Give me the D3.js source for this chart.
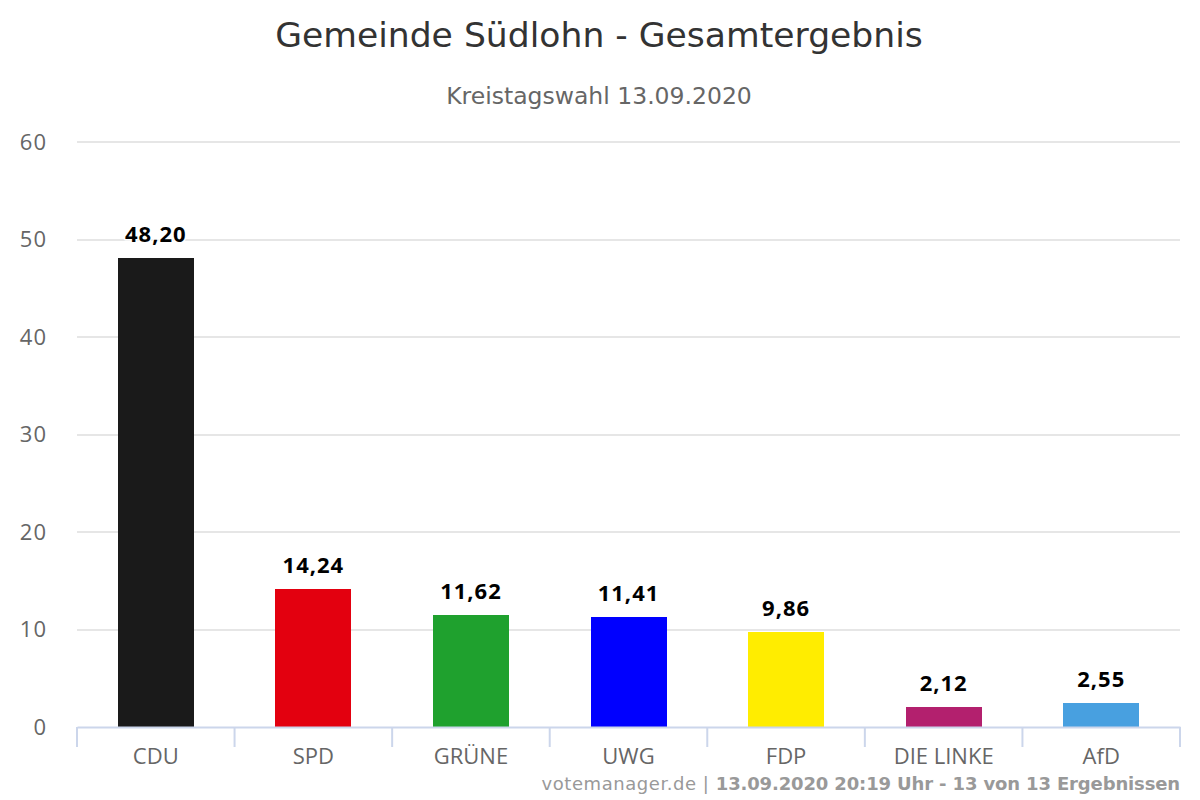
<!DOCTYPE html>
<html lang="en">
<head>
    <meta charset="UTF-8">
    <title>Gemeinde Südlohn</title>
    <script src="https://cdn.jsdelivr.net/npm/d3@7"></script>
    <style>
        html, body { margin: 0; background: #fff; }
        text { font-family: "Open Sans", sans-serif; }
        .wide { font-family: "DejaVu Sans", sans-serif; }
    </style>
</head>
<body>
<script>
    var categories = ["CDU", "SPD", "GRÜNE", "UWG", "FDP", "DIE LINKE", "AfD"];
    var values = [48.20, 14.24, 11.62, 11.41, 9.86, 2.12, 2.55];
    var labels = ["48,20", "14,24", "11,62", "11,41", "9,86", "2,12", "2,55"];
    var colors = ["#1a1a1a", "#e3000f", "#1fa12e", "#0000ff", "#ffed00", "#b3206e", "#48a0e0"];
    var yTicks = [0, 10, 20, 30, 40, 50, 60];

    var width = 1200, height = 800;
    var plotLeft = 77, plotRight = 1180, plotTop = 142, plotBottom = 727;
    var barWidth = 76, barInset = 1; // bars sit a little below their value, as in the original

    var svg = d3.select("body").append("svg")
        .attr("width", width)
        .attr("height", height)
        .style("display", "block");

    var x = d3.scaleBand().domain(categories).range([plotLeft, plotRight]);
    var y = d3.scaleLinear().domain([0, 60]).range([plotBottom, plotTop]);

    // grid
    svg.append("g").selectAll("line").data(yTicks.slice(1)).enter().append("line")
        .attr("x1", plotLeft).attr("x2", plotRight)
        .attr("y1", function(d) { return Math.round(y(d)); }).attr("y2", function(d) { return Math.round(y(d)); })
        .attr("stroke", "#e6e6e6").attr("stroke-width", 2);

    // y labels
    svg.append("g").selectAll("text").data(yTicks).enter().append("text")
        .attr("x", 47).attr("y", function(d) { return y(d) + 7.5; })
        .attr("text-anchor", "end").attr("font-size", 22).attr("letter-spacing", 1).attr("fill", "#666")
        .text(function(d) { return d; });

    // bars
    svg.append("g").selectAll("rect").data(values).enter().append("rect")
        .attr("x", function(d, i) { return Math.round(x(categories[i]) + (x.bandwidth() - barWidth) / 2); })
        .attr("width", barWidth)
        .attr("y", function(d) { return Math.round(y(d) + barInset); })
        .attr("height", function(d) { return y(0) - Math.round(y(d) + barInset); })
        .attr("fill", function(d, i) { return colors[i]; });

    // value labels
    svg.append("g").selectAll("text").data(values).enter().append("text")
        .attr("x", function(d, i) { return x(categories[i]) + x.bandwidth() / 2; })
        .attr("y", function(d) { return y(d) - 15; })
        .attr("text-anchor", "middle").attr("font-size", 22).attr("font-weight", 700)
        .attr("letter-spacing", 1)
        .attr("fill", "#000").attr("stroke", "#fff").attr("stroke-width", 3)
        .attr("paint-order", "stroke").attr("stroke-linejoin", "round")
        .text(function(d, i) { return labels[i]; });

    // x axis
    var xAxis = d3.axisBottom(x).tickSize(0).tickPadding(0);
    var axisG = svg.append("g").attr("transform", "translate(0," + plotBottom + ")").call(xAxis);
    axisG.select(".domain").attr("stroke", "#ccd6eb").attr("stroke-width", 2);
    axisG.selectAll("text").attr("y", 37).attr("dy", 0).attr("fill", "#666")
        .style("font-size", "22px").style("font-family", '"Open Sans", sans-serif');

    var edges = categories.map(function(c) { return x(c); }).concat([plotRight]);
    svg.append("g").selectAll("line").data(edges).enter().append("line")
        .attr("x1", function(d) { return d; }).attr("x2", function(d) { return d; })
        .attr("y1", plotBottom).attr("y2", plotBottom + 20)
        .attr("stroke", "#ccd6eb").attr("stroke-width", 2);

    // titles
    svg.append("text").attr("class", "wide").attr("x", 599).attr("y", 47).attr("text-anchor", "middle")
        .attr("font-size", 34.6).attr("fill", "#333")
        .text("Gemeinde Südlohn - Gesamtergebnis");
    svg.append("text").attr("class", "wide").attr("x", 599).attr("y", 104).attr("text-anchor", "middle")
        .attr("font-size", 23.5).attr("fill", "#666")
        .text("Kreistagswahl 13.09.2020");

    // credits
    var credit = svg.append("text").attr("class", "wide").attr("x", 1180).attr("y", 790).attr("text-anchor", "end")
        .attr("font-size", 18).attr("fill", "#999");
    credit.append("tspan").attr("letter-spacing", 0.55).text("votemanager.de | ");
    credit.append("tspan").attr("font-weight", 700).attr("letter-spacing", -0.14).text("13.09.2020 20:19 Uhr - 13 von 13 Ergebnissen");
</script>
</body>
</html>
